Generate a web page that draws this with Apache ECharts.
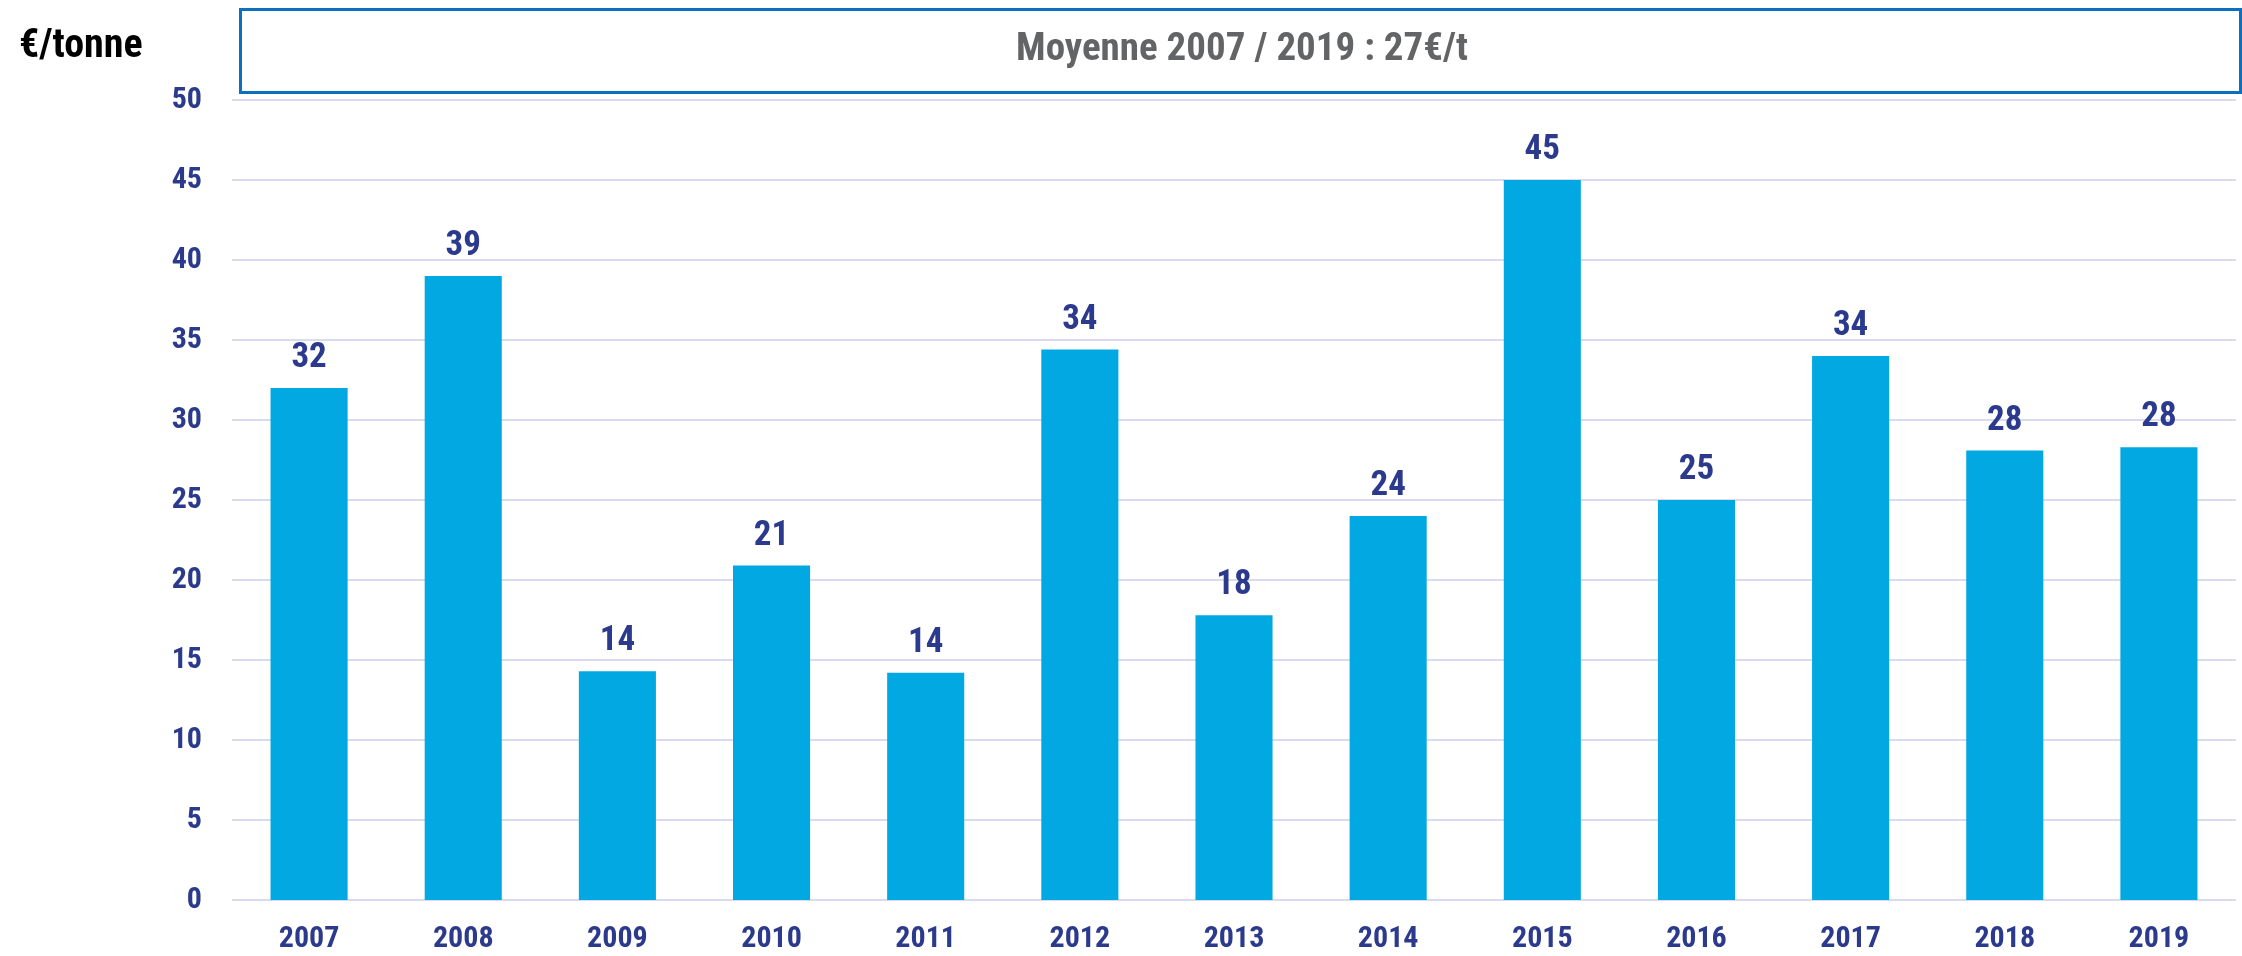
<!DOCTYPE html>
<html>
<head>
<meta charset="utf-8">
<script src="https://cdn.jsdelivr.net/npm/echarts@6/dist/echarts.min.js"></script>
<style>
	html, body { margin: 0; padding: 0; background: #fff; }
	#main { width: 2242px; height: 956px; }
</style>
</head>
<body>
<div id="main"></div>
<script>
	// données
	var years = ['2007', '2008', '2009', '2010', '2011', '2012', '2013', '2014', '2015', '2016', '2017', '2018', '2019'];
	var prix = [32, 39, 14.3, 20.9, 14.2, 34.4, 17.8, 24, 45, 25, 34, 28.1, 28.3];
	var moyenneTexte = 'Moyenne 2007 / 2019 : 27€/t';
	var uniteTexte = '€/tonne';

	var police = "'Liberation Sans Narrow', 'Arial Narrow', 'Roboto Condensed', sans-serif";
	var bleuTexte = '#2B3A8C';

	var myChart = echarts.init(document.getElementById('main'));
	myChart.setOption({
		animation: false,
		title: {
			text: uniteTexte,
			left: 14,
			top: 22,
			textStyle: {
				color: '#000',
				fontFamily: police,
				fontWeight: 'bold',
				fontSize: 40
			}
		},
		graphic: [
			{
				type: 'rect',
				left: 239,
				top: 8,
				shape: { width: 2000, height: 83 },
				style: { fill: '#fff', stroke: '#0B70BF', lineWidth: 3 }
			},
			{
				type: 'text',
				x: 1242,
				y: 50,
				style: {
					text: moyenneTexte,
					fill: '#636466',
					font: 'bold 39px ' + police,
					align: 'center',
					verticalAlign: 'middle'
				}
			}
		],
		grid: {
			left: 232,
			right: 6,
			top: 100,
			bottom: 56
		},
		xAxis: {
			type: 'category',
			data: years,
			axisLine: { show: false },
			axisTick: { show: false },
			axisLabel: {
				color: bleuTexte,
				fontFamily: police,
				fontWeight: 'bold',
				fontSize: 30,
				margin: 24,
				interval: 0
			}
		},
		yAxis: {
			type: 'value',
			min: 0,
			max: 50,
			interval: 5,
			axisLine: { show: false },
			axisTick: { show: false },
			splitLine: {
				show: true,
				lineStyle: { color: '#D9DCF0', width: 2 }
			},
			axisLabel: {
				color: bleuTexte,
				fontFamily: police,
				fontWeight: 'bold',
				fontSize: 30,
				margin: 30
			}
		},
		series: [
			{
				type: 'bar',
				data: prix,
				barWidth: '50%',
				itemStyle: { color: '#02A8E2' },
				label: {
					show: true,
					position: 'top',
					distance: 12,
					color: bleuTexte,
					fontFamily: police,
					fontWeight: 'bold',
					fontSize: 35,
					formatter: function (p) {
						return Math.round(p.value);
					}
				}
			}
		]
	});
</script>
</body>
</html>
